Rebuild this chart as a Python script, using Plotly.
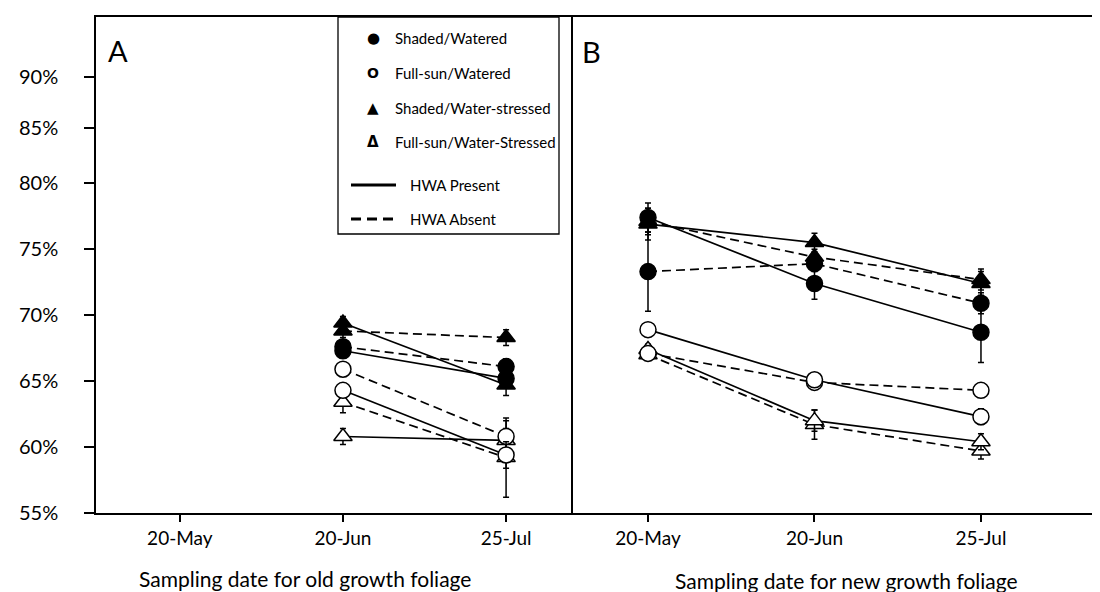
import plotly.graph_objects as go

# ---------------- data ----------------
dates = ["20-May", "20-Jun", "25-Jul"]

# Panel A: old growth foliage (no 20-May sample)
sw_present_old = [None, 67.3, 65.2]
sw_absent_old = [None, 67.6, 66.1]
fw_present_old = [None, 64.3, 59.4]
fw_absent_old = [None, 65.9, 60.8]
sws_present_old = [None, 69.4, 64.7]
sws_absent_old = [None, 68.8, 68.3]
fws_present_old = [None, 60.8, 60.5]
fws_absent_old = [None, 63.4, 59.2]

sw_present_old_err = [0, 0.4, 0.6]
sw_absent_old_err = [0, 0.4, 0.6]
fw_present_old_err = [0, 0.5, 1.0]
fw_absent_old_err = [0, 0.5, 1.2]
sws_present_old_err = [0, 0.5, 0.8]
sws_absent_old_err = [0, 0.5, 0.6]
fws_present_old_err = [0, 0.6, 0.9]
fws_absent_old_err = [0, 0.8, 3.0]

# Panel B: new growth foliage
sw_present_new = [77.4, 72.4, 68.7]
sw_absent_new = [73.3, 73.9, 70.9]
fw_present_new = [68.9, 65.1, 62.3]
fw_absent_new = [67.1, 64.9, 64.3]
sws_present_new = [76.9, 75.5, 72.4]
sws_absent_new = [77.1, 74.4, 72.7]
fws_present_new = [67.4, 62.0, 60.4]
fws_absent_new = [67.0, 61.7, 59.7]

sw_present_new_err = [1.1, 1.2, 2.3]
sw_absent_new_err = [3.0, 0.6, 0.8]
fw_present_new_err = [0.3, 0.4, 0.6]
fw_absent_new_err = [0.3, 0.5, 0.5]
sws_present_new_err = [1.2, 0.7, 0.9]
sws_absent_new_err = [1.0, 0.6, 0.8]
fws_present_new_err = [0.4, 0.8, 0.6]
fws_absent_new_err = [0.4, 1.1, 0.6]

# y tick labels (the reference places 85% / 90% slightly compressed)
ytick_vals = [55, 60, 65, 70, 75, 80, 84.2, 88.05]
ytick_text = ["55%", "60%", "65%", "70%", "75%", "80%", "85%", "90%"]

legend_labels = ["Shaded/Watered", "Full-sun/Watered", "Shaded/Water-stressed",
                 "Full-sun/Water-Stressed"]
line_labels = ["HWA Present", "HWA Absent"]

# ---------------- styles ----------------
FONT = "Lato, 'Open Sans', sans-serif"
styles = {
    "sw": dict(symbol="circle", fill="black"),
    "fw": dict(symbol="circle", fill="white"),
    "sws": dict(symbol="triangle-up", fill="black"),
    "fws": dict(symbol="triangle-up", fill="white"),
}

series = [
    # key, hwa, old, old_err, new, new_err
    ("fws", "absent", fws_absent_old, fws_absent_old_err, fws_absent_new, fws_absent_new_err),
    ("fws", "present", fws_present_old, fws_present_old_err, fws_present_new, fws_present_new_err),
    ("fw", "absent", fw_absent_old, fw_absent_old_err, fw_absent_new, fw_absent_new_err),
    ("fw", "present", fw_present_old, fw_present_old_err, fw_present_new, fw_present_new_err),
    ("sw", "absent", sw_absent_old, sw_absent_old_err, sw_absent_new, sw_absent_new_err),
    ("sw", "present", sw_present_old, sw_present_old_err, sw_present_new, sw_present_new_err),
    ("sws", "absent", sws_absent_old, sws_absent_old_err, sws_absent_new, sws_absent_new_err),
    ("sws", "present", sws_present_old, sws_present_old_err, sws_present_new, sws_present_new_err),
]

fig = go.Figure()
for key, hwa, old, old_err, new, new_err in series:
    st = styles[key]
    dash = "solid" if hwa == "present" else "9px,5px"
    for xa, vals, errs in (("x", old, old_err), ("x2", new, new_err)):
        fig.add_trace(go.Scatter(
            x=dates, y=vals, xaxis=xa, yaxis="y",
            mode="lines+markers",
            line=dict(color="black", width=1.7, dash=dash),
            marker=dict(symbol=st["symbol"], size=16, color=st["fill"],
                        line=dict(color="black", width=1.5)),
            error_y=dict(type="data", array=errs, visible=True,
                         color="black", thickness=1.5, width=3),
            showlegend=False, hoverinfo="skip",
        ))

axis_common = dict(type="category", categoryarray=dates, showgrid=False,
                   zeroline=False, showline=True, linecolor="black", linewidth=1.5,
                   mirror=True, ticks="outside", ticklen=7, tickcolor="black",
                   tickwidth=1.5, tickfont=dict(family=FONT, size=19, color="black"))

L, R_TOTAL = 88, 1100
W = R_TOTAL - L
split = (563 - L) / W

fig.update_layout(
    width=1100, height=592,
    margin=dict(l=88, r=0, t=9, b=87),
    paper_bgcolor="white", plot_bgcolor="white",
    xaxis=dict(domain=[0, split], range=[-0.514, 2.398], anchor="y", **axis_common),
    xaxis2=dict(domain=[split, 1], range=[-0.4625, 2.763], anchor="y", **axis_common),
    yaxis=dict(range=[55, 92.6], tickvals=ytick_vals, ticktext=ytick_text,
               showgrid=False, zeroline=False, showline=True, linecolor="black",
               linewidth=1.5, mirror=True, ticks="outside", ticklen=10,
               tickcolor="black", tickwidth=1.5, ticklabelstandoff=22,
               tickfont=dict(family=FONT, size=20, color="black")),
    showlegend=False,
)

def px_x(px):
    return (px - L) / W

def px_y(py):
    return (505 - py) / 496

annotations = [
    dict(x=px_x(110), y=px_y(42), text="A", font=dict(family=FONT, size=29, color="black")),
    dict(x=px_x(583), y=px_y(43), text="B", font=dict(family=FONT, size=29, color="black")),
    dict(x=px_x(297), y=px_y(570), text="Sampling date for old growth foliage",
         font=dict(family=FONT, size=21, color="black")),
    dict(x=px_x(838), y=px_y(572), text="Sampling date for new growth foliage",
         font=dict(family=FONT, size=21, color="black")),
]

# legend
legend_rows = [30, 65, 100, 134]
glyphs = ["●", "<b>O</b>", "▲", "<b>Δ</b>"]
glyph_sizes = [15, 14, 15, 15]
for row, g, gs, lab in zip(legend_rows, glyphs, glyph_sizes, legend_labels):
    annotations.append(dict(x=px_x(365), y=px_y(row), text=g,
                            font=dict(family="DejaVu Sans", size=gs, color="black")))
    annotations.append(dict(x=px_x(385), y=px_y(row), text=lab, xanchor="left",
                            font=dict(family=FONT, size=15, color="black")))
line_rows = [177, 211]
for row, lab in zip(line_rows, line_labels):
    annotations.append(dict(x=px_x(400), y=px_y(row), text=lab, xanchor="left",
                            font=dict(family=FONT, size=15, color="black")))
for a in annotations:
    a.setdefault("xref", "paper")
    a.setdefault("yref", "paper")
    a.setdefault("showarrow", False)
    a.setdefault("xanchor", "center")
    a.setdefault("yanchor", "middle")

shapes = [
    dict(type="rect", xref="paper", yref="paper", x0=px_x(330), x1=px_x(551),
         y0=px_y(226), y1=1.0, line=dict(color="black", width=1.3),
         fillcolor="white", layer="above"),
    dict(type="line", xref="paper", yref="paper", x0=px_x(343), x1=px_x(388),
         y0=px_y(177), y1=px_y(177), line=dict(color="black", width=3)),
    dict(type="line", xref="paper", yref="paper", x0=px_x(343), x1=px_x(388),
         y0=px_y(211), y1=px_y(211), line=dict(color="black", width=3, dash="10px,6px")),
]

fig.update_layout(annotations=annotations, shapes=shapes)
fig.write_html("out.html")
